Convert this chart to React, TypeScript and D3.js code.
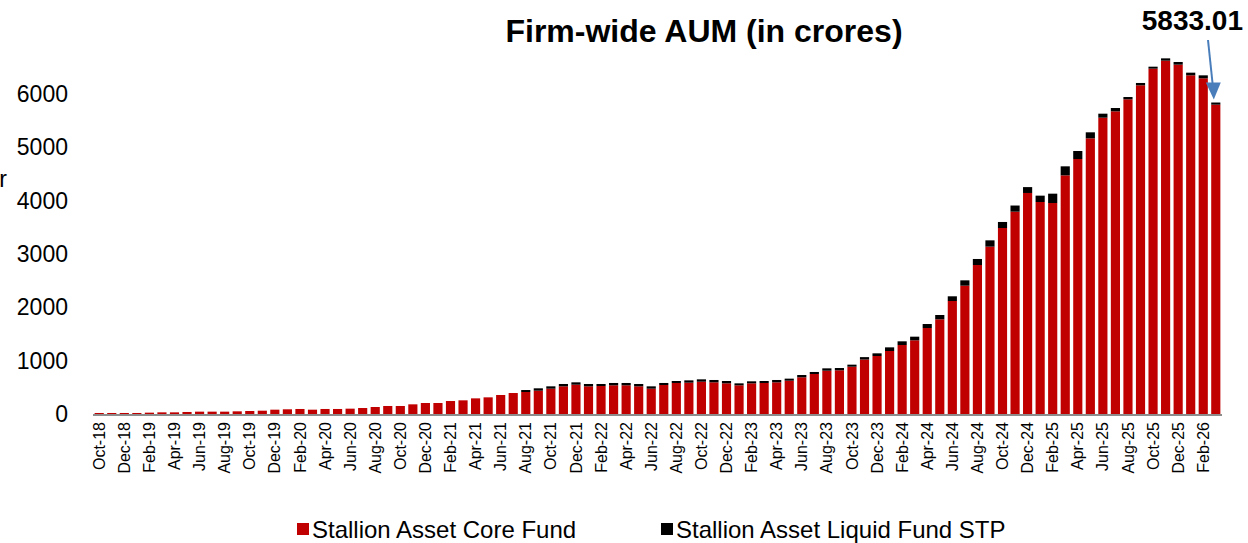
import React, { useEffect, useRef } from 'react';
import * as d3 from 'd3';

// month labels, Oct-18 .. Mar-26
const months = [
  'Oct-18', 'Nov-18', 'Dec-18', 'Jan-19', 'Feb-19', 'Mar-19', 'Apr-19', 'May-19', 'Jun-19', 'Jul-19',
  'Aug-19', 'Sep-19', 'Oct-19', 'Nov-19', 'Dec-19', 'Jan-20', 'Feb-20', 'Mar-20', 'Apr-20', 'May-20',
  'Jun-20', 'Jul-20', 'Aug-20', 'Sep-20', 'Oct-20', 'Nov-20', 'Dec-20', 'Jan-21', 'Feb-21', 'Mar-21',
  'Apr-21', 'May-21', 'Jun-21', 'Jul-21', 'Aug-21', 'Sep-21', 'Oct-21', 'Nov-21', 'Dec-21', 'Jan-22',
  'Feb-22', 'Mar-22', 'Apr-22', 'May-22', 'Jun-22', 'Jul-22', 'Aug-22', 'Sep-22', 'Oct-22', 'Nov-22',
  'Dec-22', 'Jan-23', 'Feb-23', 'Mar-23', 'Apr-23', 'May-23', 'Jun-23', 'Jul-23', 'Aug-23', 'Sep-23',
  'Oct-23', 'Nov-23', 'Dec-23', 'Jan-24', 'Feb-24', 'Mar-24', 'Apr-24', 'May-24', 'Jun-24', 'Jul-24',
  'Aug-24', 'Sep-24', 'Oct-24', 'Nov-24', 'Dec-24', 'Jan-25', 'Feb-25', 'Mar-25', 'Apr-25', 'May-25',
  'Jun-25', 'Jul-25', 'Aug-25', 'Sep-25', 'Oct-25', 'Nov-25', 'Dec-25', 'Jan-26', 'Feb-26', 'Mar-26',
];

const coreFund = [
  19, 19, 19, 19, 25, 31, 31, 38, 44, 44,
  44, 50, 56, 62, 81, 88, 94, 81, 94, 94,
  100, 112, 131, 150, 150, 181, 206, 206, 243, 256,
  293, 312, 356, 393, 412, 437, 474, 518, 549, 518,
  524, 537, 537, 518, 474, 543, 581, 587, 605, 593,
  574, 537, 574, 581, 593, 624, 687, 749, 811, 818,
  886, 1020, 1086, 1180, 1292, 1380, 1610, 1773, 2116, 2403,
  2790, 3134, 3483, 3789, 4139, 3970, 3951, 4469, 4775, 5162,
  5549, 5668, 5893, 6155, 6467, 6617, 6542, 6342, 6286, 5793,
];

const liquidFundSTP = [
  0, 0, 0, 0, 0, 0, 0, 0, 0, 0,
  0, 0, 0, 0, 0, 0, 0, 0, 0, 0,
  0, 0, 0, 0, 0, 0, 0, 0, 0, 0,
  0, 0, 0, 0, 37, 44, 44, 44, 44, 44,
  38, 44, 44, 44, 44, 38, 37, 43, 44, 44,
  44, 37, 38, 37, 44, 38, 43, 38, 44, 43,
  38, 45, 50, 68, 69, 68, 75, 81, 88, 100,
  113, 118, 113, 115, 110, 119, 175, 169, 150, 113,
  75, 62, 43, 44, 37, 43, 50, 50, 56, 40,
];

const yTicks = [0, 1000, 2000, 3000, 4000, 5000, 6000];
const seriesNames = ['Stallion Asset Core Fund', 'Stallion Asset Liquid Fund STP'];
const seriesColors = ['#c00000', '#000000'];
const lastLabel = '5833.01';

const FONT = "'Liberation Sans', Arial, sans-serif";

const App = () => {
  const ref = useRef<HTMLDivElement>(null);

  useEffect(() => {
    document.body.style.margin = '0';
    const width = 1248;
    const height = 543;

    d3.select(ref.current).select('svg').remove();

    const svg = d3.select(ref.current)
      .append('svg')
      .attr('width', width)
      .attr('height', height)
      .style('display', 'block')
      .style('background', '#fff');

    const rows = months.map((m, i) => ({ month: m, core: coreFund[i], liquid: liquidFundSTP[i] }));
    const stack = d3.stack<any>().keys(['core', 'liquid'])(rows);

    const xScale = d3.scaleBand()
      .domain(months)
      .range([93, 1222])
      .paddingInner(0.27)
      .paddingOuter(0.13);

    const yScale = d3.scaleLinear()
      .domain([0, 6000])
      .range([414, 93.6]);

    // bars
    stack.forEach((layer, k) => {
      svg.append('g')
        .selectAll('rect')
        .data(layer)
        .enter()
        .append('rect')
        .attr('x', d => xScale(d.data.month)!)
        .attr('y', d => yScale(d[1]))
        .attr('width', xScale.bandwidth())
        .attr('height', d => Math.max(0, yScale(d[0]) - yScale(d[1])))
        .attr('fill', seriesColors[k]);
    });

    // x axis line
    svg.append('line')
      .attr('x1', 93)
      .attr('x2', 1222)
      .attr('y1', yScale(0) + 1)
      .attr('y2', yScale(0) + 1)
      .attr('stroke', '#8c8c8c')
      .attr('stroke-width', 2);

    // x labels, every second month
    svg.append('g')
      .selectAll('text')
      .data(months.filter((_, i) => i % 2 === 0))
      .enter()
      .append('text')
      .attr('transform', d => `translate(${xScale(d)! + xScale.bandwidth() / 2}, 422) rotate(-90)`)
      .attr('dy', '0.35em')
      .style('text-anchor', 'end')
      .style('font-family', FONT)
      .style('font-size', '16px')
      .attr('fill', '#000')
      .text(d => d);

    // y labels
    svg.append('g')
      .selectAll('text')
      .data(yTicks)
      .enter()
      .append('text')
      .attr('x', 68)
      .attr('y', d => yScale(d))
      .attr('dy', '0.36em')
      .style('text-anchor', 'end')
      .style('font-family', FONT)
      .style('font-size', '23px')
      .attr('fill', '#000')
      .text(d => d);

    // cut-off axis title fragment
    svg.append('text')
      .attr('x', 7)
      .attr('y', 187)
      .style('text-anchor', 'end')
      .style('font-family', FONT)
      .style('font-size', '23px')
      .text('r');

    // title
    svg.append('text')
      .attr('x', 704)
      .attr('y', 42)
      .style('text-anchor', 'middle')
      .style('font-family', FONT)
      .style('font-size', '32px')
      .style('font-weight', 'bold')
      .text('Firm-wide AUM (in crores)');

    // last value callout
    svg.append('text')
      .attr('x', 1243)
      .attr('y', 30)
      .style('text-anchor', 'end')
      .style('font-family', FONT)
      .style('font-size', '28px')
      .style('font-weight', 'bold')
      .text(lastLabel);

    const lastMonth = months[months.length - 1];
    const tipX = xScale(lastMonth)! + xScale.bandwidth() / 2 - 2;
    const tipY = yScale(coreFund[coreFund.length - 1] + liquidFundSTP[liquidFundSTP.length - 1]) - 3;
    svg.append('line')
      .attr('x1', 1208)
      .attr('y1', 40)
      .attr('x2', tipX - 1)
      .attr('y2', tipY - 14)
      .attr('stroke', '#4a7ebb')
      .attr('stroke-width', 2);
    svg.append('path')
      .attr('d', `M${tipX - 8},${tipY - 17} L${tipX + 7},${tipY - 17} L${tipX},${tipY} Z`)
      .attr('fill', '#4a7ebb');

    // legend
    const legend = svg.append('g');
    const legendX = [297, 661];
    seriesNames.forEach((name, i) => {
      legend.append('rect')
        .attr('x', legendX[i])
        .attr('y', 523)
        .attr('width', 12)
        .attr('height', 12)
        .style('fill', seriesColors[i]);
      legend.append('text')
        .attr('x', legendX[i] + 15)
        .attr('y', 538)
        .style('font-family', FONT)
        .style('font-size', '24px')
        .text(name);
    });
  }, []);

  return <div ref={ref} style={{ width: 1248, height: 543 }}></div>;
};

export default App;
